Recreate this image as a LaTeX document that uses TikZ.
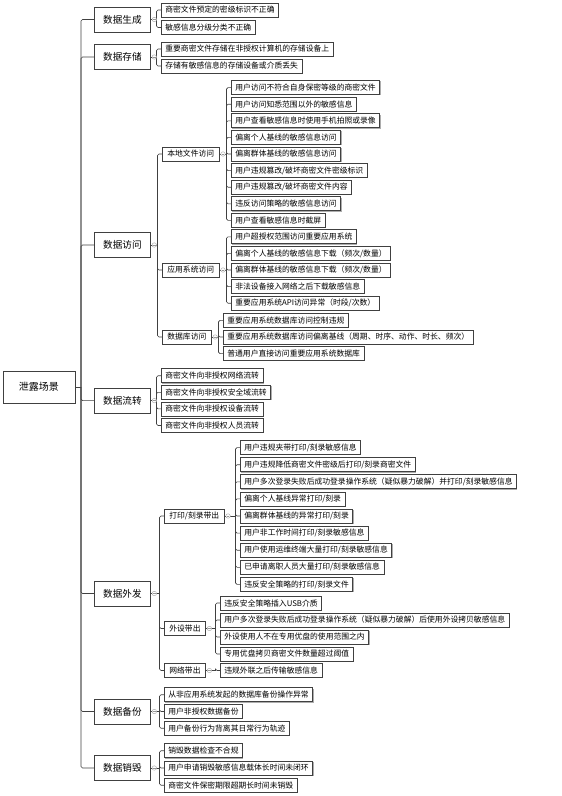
\documentclass[tikz,border=0pt]{standalone}
\usepackage{fontspec}
\setmainfont{Noto Sans CJK SC}
\usetikzlibrary{calc,shadows}

\begin{document}
\begin{tikzpicture}[x=1pt,y=-1pt,
  conn/.style={draw=black!75,line width=0.6pt,rounded corners=1.5pt},
  box/.style={draw=black!75,fill=white,line width=0.7pt,
    drop shadow={shadow xshift=0.8pt,shadow yshift=-0.8pt,fill=black!40,opacity=0.8}},
  leaf/.style={box,anchor=west,inner xsep=4pt,inner ysep=0pt,minimum height=14pt,
    font=\fontsize{7.8}{9}\selectfont},
  sub/.style={leaf,inner xsep=5pt},
  cat/.style={box,anchor=west,line width=0.8pt,minimum width=56pt,minimum height=25pt,
    font=\fontsize{9.6}{11}\selectfont},
  root/.style={box,line width=0.8pt,minimum width=72pt,minimum height=32pt,
    font=\fontsize{10}{12}\selectfont},
  fold/.style={circle,draw=black!35,fill=white,line width=0.4pt,inner sep=0pt,minimum size=4.5pt,
    path picture={\draw[black!40,line width=0.4pt]
      ([xshift=-1.3pt]path picture bounding box.center) -- ([xshift=1.3pt]path picture bounding box.center);}}]
  \useasboundingbox (0,0) rectangle (562,796);

  % root and trunk
  \node[root] (leak) at (39,387) {泄露场景};
  \coordinate (tk) at (81,387);
  \draw[conn] (leak.east) -- (tk);

  \node[cat] (gen) at (94,19.5) {数据生成};
  \node[cat] (sto) at (94,57) {数据存储};
  \node[cat] (acc) at (94,245) {数据访问};
  \node[cat] (flo) at (94,400.6) {数据流转};
  \node[cat] (out) at (94,593.5) {数据外发};
  \node[cat] (bak) at (94,711.5) {数据备份};
  \node[cat] (des) at (94,768) {数据销毁};
  \foreach \c in {gen,sto,acc,flo,out,bak,des}
    \draw[conn] (tk) |- (\c.west);

  % second level
  \node[sub] (acc-1) at (162,154) {本地文件访问};
  \node[sub] (acc-2) at (162,270) {应用系统访问};
  \node[sub] (acc-3) at (162,337) {数据库访问};
  \node[sub] (out-1) at (164,516) {打印/刻录带出};
  \node[sub] (out-2) at (164,628.5) {外设带出};
  \node[sub] (out-3) at (164,670.5) {网络带出};

  % leaves
  \foreach \t [count=\i] in {商密文件预定的密级标识不正确,敏感信息分级分类不正确}
    \node[leaf] (gen-\i) at (161,{18.75+(\i-1.5)*17.5}) {\t};
  \foreach \t [count=\i] in {重要商密文件存储在非授权计算机的存储设备上,存储有敏感信息的存储设备或介质丢失}
    \node[leaf] (sto-\i) at (161,{57.5+(\i-1.5)*17}) {\t};
  \foreach \t [count=\i] in {用户访问不符合自身保密等级的商密文件,用户访问知悉范围以外的敏感信息,
      用户查看敏感信息时使用手机拍照或录像,偏离个人基线的敏感信息访问,偏离群体基线的敏感信息访问,
      用户违规篡改/破坏商密文件密级标识,用户违规篡改/破坏商密文件内容,违反访问策略的敏感信息访问,
      用户查看敏感信息时截屏}
    \node[leaf] (acc-1-\i) at (231,{154+(\i-5)*16.6}) {\t};
  \foreach \t [count=\i] in {用户超授权范围访问重要应用系统,偏离个人基线的敏感信息下载（频次/数量）,
      偏离群体基线的敏感信息下载（频次/数量）,非法设备接入网络之后下载敏感信息,
      重要应用系统API访问异常（时段/次数）}
    \node[leaf] (acc-2-\i) at (231,{270+(\i-3)*16.6}) {\t};
  \foreach \t [count=\i] in {重要应用系统数据库访问控制违规,
      重要应用系统数据库访问偏离基线（周期、时序、动作、时长、频次）,普通用户直接访问重要应用系统数据库}
    \node[leaf] (acc-3-\i) at (223,{337+(\i-2)*16.6}) {\t};
  \foreach \t [count=\i] in {商密文件向非授权网络流转,商密文件向非授权安全域流转,
      商密文件向非授权设备流转,商密文件向非授权人员流转}
    \node[leaf] (flo-\i) at (161,{400.6+(\i-2.5)*16.6}) {\t};
  \foreach \t [count=\i] in {用户违规夹带打印/刻录敏感信息,用户违规降低商密文件密级后打印/刻录商密文件,
      用户多次登录失败后成功登录操作系统（疑似暴力破解）并打印/刻录敏感信息,偏离个人基线异常打印/刻录,
      偏离群体基线的异常打印/刻录,用户非工作时间打印/刻录敏感信息,用户使用运维终端大量打印/刻录敏感信息,
      已申请离职人员大量打印/刻录敏感信息,违反安全策略的打印/刻录文件}
    \node[leaf] (out-1-\i) at (240,{516+(\i-5)*17.1}) {\t};
  \foreach \t [count=\i] in {违反安全策略插入USB介质,
      用户多次登录失败后成功登录操作系统（疑似暴力破解）后使用外设拷贝敏感信息,
      外设使用人不在专用优盘的使用范围之内,专用优盘拷贝商密文件数量超过阈值}
    \node[leaf] (out-2-\i) at (220,{628.5+(\i-2.5)*17}) {\t};
  \node[leaf] (out-3-1) at (220,670.5) {违规外联之后传输敏感信息};
  \foreach \t [count=\i] in {从非应用系统发起的数据库备份操作异常,用户非授权数据备份,用户备份行为背离其日常行为轨迹}
    \node[leaf] (bak-\i) at (164,{711.5+(\i-2)*16.75}) {\t};
  \foreach \t [count=\i] in {销毁数据检查不合规,用户申请销毁敏感信息载体长时间未闭环,商密文件保密期限超期长时间未销毁}
    \node[leaf] (des-\i) at (164,{768+(\i-2)*17.25}) {\t};

  % brackets
  \foreach \p/\n in {gen/2,sto/2,acc/3,acc-1/9,acc-2/5,acc-3/3,flo/4,out/3,out-1/9,out-2/4,out-3/1,bak/3,des/3} {
    \coordinate (\p-b) at ($(\p.east -| \p-1.west)+(-4.5,0)$);
    \draw[conn] (\p.east) -- (\p-b);
    \foreach \i in {1,...,\n}
      \draw[conn] (\p-b) |- (\p-\i.west);
    \node[fold] (\p-f) at ([xshift=3.5pt]\p.east) {};
  }
\end{tikzpicture}
\end{document}
